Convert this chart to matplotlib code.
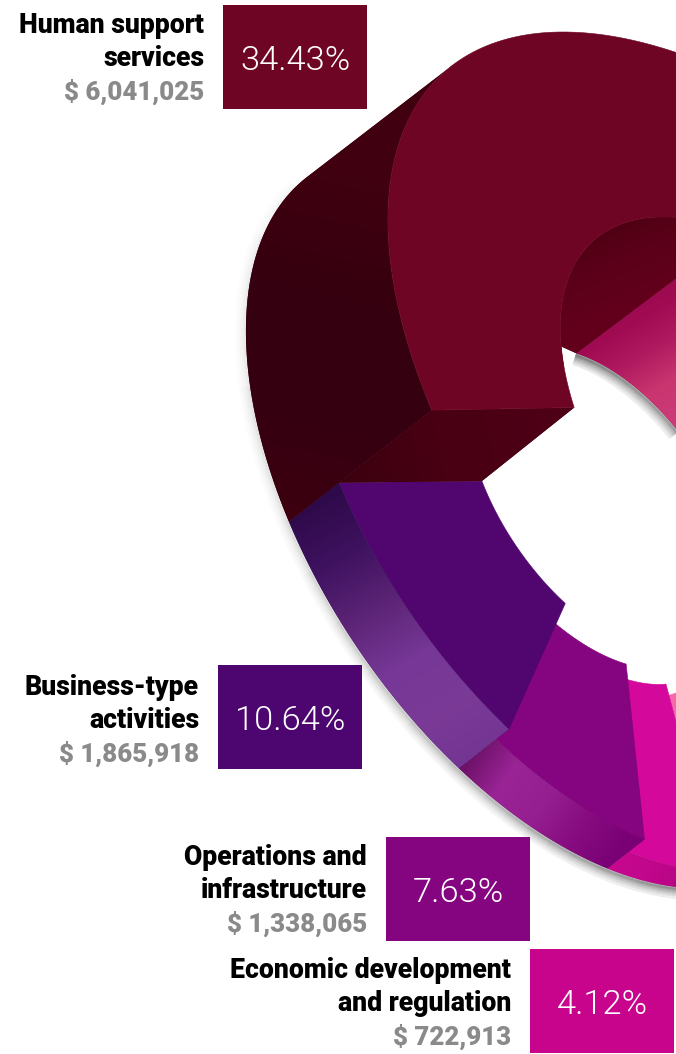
import numpy as np
import matplotlib
matplotlib.use('Agg')
import matplotlib.pyplot as plt
from matplotlib.collections import LineCollection
from matplotlib.colors import LinearSegmentedColormap
from matplotlib.patches import Polygon, Rectangle

# Data
names = ['Human support\nservices', 'Business-type\nactivities',
         'Operations and\ninfrastructure', 'Economic development\nand regulation']
shares = [34.43, 10.64, 7.63, 4.12]
amounts = ['$ 6,041,025', '$ 1,865,918', '$ 1,338,065', '$ 722,913']
colors = ['#6e0524', '#4d0570', '#85047f', '#c9048c']

W, H = 676, 1054

# Ring projection, in pixels: lower ellipse and the raised face of the tall slice
BASE_C = np.array([546.6, 518.9])
BASE_A, BASE_B = 417.6, 228.9
BASE_U = np.array([0.558, 0.83])
BASE_V = np.array([-0.83, 0.558])
TOP_C = np.array([808.7, 483.2])
TOP_A, TOP_B = 549.4, 280.6
TOP_U = np.array([0.664, 0.748])
TOP_V = np.array([-0.748, 0.664])
TOP_HOLE = 0.59
START_BASE = 109.8   # angle where the tall slice meets the next one
START_TOP = 123.7
START_TOP_IN = 130.9
DEG_OUT = 3.95       # degrees per percent, foreshortened towards the viewer
DEG_IN = 4.32
DEG_TRUE = 3.6
LIFT = np.array([5.95, -4.65])


def lift(share):
    return LIFT * share ** 0.9


def base_pts(t0, t1, rho=1.0, off=(0, 0), n=80):
    t = np.radians(np.linspace(t0, t1, n))
    p = (BASE_A * np.cos(t))[:, None] * BASE_U + (BASE_B * np.sin(t))[:, None] * BASE_V
    return BASE_C + np.reshape(rho, (-1, 1)) * p + np.asarray(off)


def top_pts(t0, t1, rho=1.0, n=120):
    t = np.radians(np.linspace(t0, t1, n))
    p = (TOP_A * np.cos(t))[:, None] * TOP_U + (TOP_B * np.sin(t))[:, None] * TOP_V
    return TOP_C + rho * p


fig = plt.figure(figsize=(W / 100, H / 100), dpi=100)
ax = fig.add_axes([0, 0, 1, 1])
ax.set_xlim(0, W)
ax.set_ylim(H, 0)
ax.axis('off')

X, Y = np.meshgrid(np.arange(W) + 0.5, np.arange(H) + 0.5)
z = [1]


def flat(pts, color):
    z[0] += 1
    ax.add_patch(Polygon(pts, closed=True, fc=color, ec=color, lw=0.4, zorder=z[0]))


def gradient(pts, stops, p0, p1):
    # linear colour ramp between two points, clipped to the polygon
    z[0] += 1
    patch = Polygon(pts, closed=True, fc=stops[0], ec='none', zorder=z[0])
    ax.add_patch(patch)
    d = np.subtract(p1, p0)
    s = ((X - p0[0]) * d[0] + (Y - p0[1]) * d[1]) / (d @ d)
    z[0] += 1
    im = ax.imshow(s, cmap=LinearSegmentedColormap.from_list('g', stops), vmin=0, vmax=1,
                   extent=(0, W, H, 0), aspect='auto', interpolation='nearest', zorder=z[0])
    im.set_clip_path(patch)


def shadow(pts, shift, alphas):
    # stacked translucent strokes read as a soft drop shadow
    segs = np.stack([pts[:-1], pts[1:]], axis=1) + np.asarray(shift)
    rgba = np.zeros((len(segs), 4))
    rgba[:, 3] = alphas
    z[0] += 1
    for w in [20, 15, 11, 8, 5, 3, 1.5]:
        ax.add_collection(LineCollection(segs, colors=rgba, linewidths=w * 0.72,
                                         capstyle='butt', zorder=z[0]))


cum = np.cumsum(shares)
t_out = START_BASE - DEG_OUT * np.r_[0, cum[1:] - cum[0]] + np.array([0, 0, 1.5, 0])
t_in = START_BASE - DEG_IN * np.r_[0, cum[1:] - cum[0]] + np.array([0, 0, 3.0, -3.0])
rho = [0.445, 0.445, 0.485, 0.5]
off = [lift(s) for s in shares]

# Drop shadows under the ring and inside the hole
rim = base_pts(START_BASE + 65, 15, n=160)
shadow(rim, (-1, 2), np.interp(np.arange(159), [0, 60, 110, 158], [0.008, 0.016, 0.04, 0.085]))

HOLE_C = np.array([65.0, -12.0])
HOLE_RHO = 0.43
hole = base_pts(215, 285, HOLE_RHO, HOLE_C)
shadow(hole, (-1, 2), np.interp(np.arange(79), [0, 30, 78], [0.09, 0.07, 0.05]))

# Far slice: inner wall seen through the hole
edge_dir = np.array([101.0, -76.0])
far = hole[0] + edge_dir * 1.9
pink = np.vstack([hole, [[900, 500], far]])
gradient(pink, ['#980a4e', '#a00a52', '#b01a60', '#c8356f', '#cc3a78'], (600, 300), (672, 420))

# Far slice: face behind the small slice
flat(np.vstack([base_pts(11.1, -40, rho[3], (26, -6)),
                base_pts(-40, 21.3, 1.0, (26, -6))]), '#f568ac')

# Small slice: face then outer wall
top3 = np.vstack([base_pts(t_out[2] + 10, t_out[3], 1.0, off[3]),
                  base_pts(t_in[3], t_in[2] + 10, np.linspace(rho[3], 0.465, 80), off[3])])
flat(top3, '#d4089b')
wall3 = np.vstack([base_pts(t_out[2], t_out[3]), base_pts(t_out[3], t_out[2], 1.0, off[3])])
gradient(wall3, ['#c8088f', '#c0078c', '#b0067f'], base_pts(t_out[2], t_out[2], n=1)[0],
         base_pts(t_out[3], t_out[3], n=1)[0])

# Third slice
top2 = np.vstack([base_pts(t_out[1], t_out[2], 1.0, off[2]),
                  base_pts(t_in[2], t_in[1], rho[2], off[2])])
flat(top2, '#85047f')
wall2 = np.vstack([base_pts(t_out[1], t_out[2]), base_pts(t_out[2], t_out[1], 1.0, off[2])])
a2, b2 = base_pts(t_out[1], t_out[1], n=1)[0], base_pts(t_out[2], t_out[2], n=1)[0]
gradient(wall2, ['#6a1065', '#9a2496', '#951f90', '#860c80', '#7a0075'], a2, b2)

# Second slice
top1 = np.vstack([base_pts(t_out[0], t_out[1], 1.0, off[1]),
                  base_pts(t_in[1], t_in[0], np.linspace(0.462, rho[1], 80), off[1])])
flat(top1, '#50056f')
wall1 = np.vstack([base_pts(t_out[0], t_out[1]), base_pts(t_out[1], t_out[0], 1.0, off[1])])
a1 = base_pts(t_out[0], t_out[0], n=1)[0]
gradient(wall1, ['#2e0a4a', '#3f1260', '#5c2476', '#763796', '#7a3a96', '#743493'],
         a1 + (10, -10), base_pts(t_out[1], t_out[1], n=1)[0] + (-10, 10))

# Tall slice: inner wall, outer wall, cut face, top face
hole_end = START_TOP_IN + DEG_TRUE * shares[0]
inner = top_pts(140, 222, TOP_HOLE)
wall_in = np.vstack([inner, [hole[0] + edge_dir * 1.5], [hole[0]], [(558, 345)]])
gradient(wall_in, ['#4a0012', '#5a0018', '#62001c'], (575, 225), (610, 310))

wall0 = np.vstack([base_pts(START_BASE, 177.7), top_pts(183, START_TOP)])
gradient(wall0, ['#3e0010', '#350010', '#36000f', '#40000f'], (250, 520), (330, 170))

cut = np.vstack([top_pts(START_TOP, START_TOP, n=1), top_pts(START_TOP_IN, START_TOP_IN, TOP_HOLE, n=1),
                 base_pts(START_BASE, START_BASE, rho[1], off[1], n=1),
                 base_pts(START_BASE, START_BASE, 1.0, off[1], n=1),
                 base_pts(START_BASE, START_BASE, n=1)])
gradient(cut, ['#3c000f', '#480012', '#4e0016'], (340, 470), (540, 430))

face = np.vstack([top_pts(START_TOP, START_TOP + DEG_TRUE * shares[0]),
                  top_pts(hole_end, START_TOP_IN, TOP_HOLE)])
flat(face, colors[0])

# Labels and percentage boxes
box_xy = [(223, 5), (218, 665), (386, 837), (530, 949)]
box_w, box_h = 144, 104
text_right = [204, 199, 367, 511]
baselines = [(33, 66, 100), (695, 728, 762), (865, 898, 932), (978, 1011, 1045)]
for i, name in enumerate(names):
    x, y = box_xy[i]
    ax.add_patch(Rectangle((x, y), box_w, box_h, fc=colors[i], ec='none', zorder=500))
    ax.text(x + box_w / 2, y + box_h / 2 + 4, f'{shares[i]:.2f}%', color='white', fontsize=24.8,
            family='Roboto', weight=300, ha='center', va='center', zorder=501)
    lines = name.split('\n')
    for line, yb in zip(lines, baselines[i]):
        ax.text(text_right[i], yb, line, color='black', fontsize=19.2, family='Roboto',
                weight=900, ha='right', va='baseline', zorder=501)
    ax.text(text_right[i], baselines[i][2], amounts[i], color='#8a8a8a', fontsize=18.6,
            family='Roboto', weight=900, ha='right', va='baseline', zorder=501)

ax.set_xlim(0, W)
ax.set_ylim(H, 0)
fig.savefig('out.png', dpi=100, facecolor='white')
